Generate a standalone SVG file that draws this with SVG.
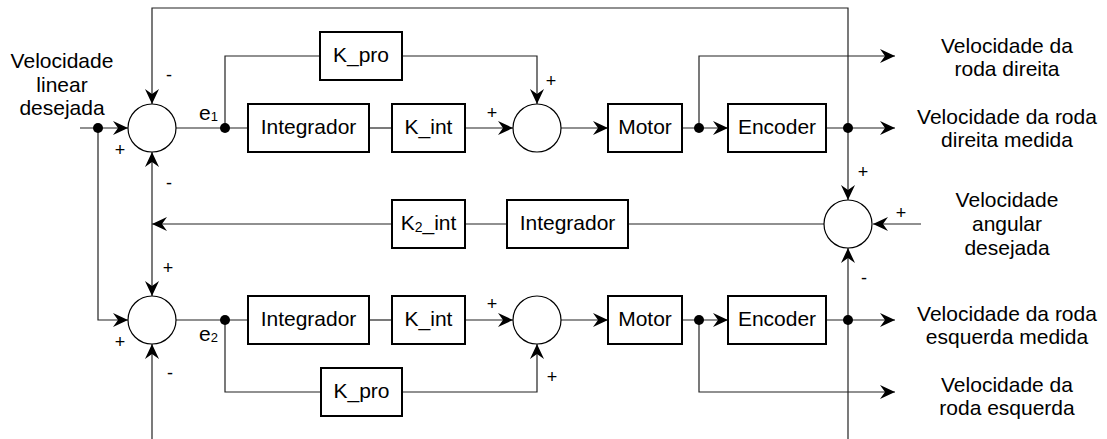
<svg xmlns="http://www.w3.org/2000/svg" width="1107" height="439" viewBox="0 0 1107 439">
<style>
text{font-family:"Liberation Sans",Arial,sans-serif;fill:#000;font-size:21px}
.c{text-anchor:middle}
.s{font-size:18px;text-anchor:middle}
.box{fill:#fff;stroke:#000;stroke-width:2}
.sum{fill:#fff;stroke:#000;stroke-width:1.2}
.ln{fill:none;stroke:#222;stroke-width:1.2}
.ar{marker-end:url(#ah)}
.dot{fill:#000}
</style>
<defs>
<marker id="ah" viewBox="-16 -8 17 16" refX="0" refY="0" markerWidth="17" markerHeight="16" markerUnits="userSpaceOnUse" orient="auto"><path d="M0,0 L-15,-7 L-10,0 L-15,7 Z" fill="#000"/></marker>
</defs>
<rect width="1107" height="439" fill="#fff"/>
<g id="connectors">
<path class="ln ar" d="M80,128 H128"/>
<path class="ln ar" d="M98,128 V320 H128"/>
<path class="ln ar" d="M848,128 V8 H152 V104"/>
<path class="ln ar" d="M848,128 V200"/>
<path class="ln" d="M176,128 H248"/>
<path class="ln" d="M225,128 V56 H320"/>
<path class="ln ar" d="M402,56 H537 V104"/>
<path class="ln" d="M369,128 H392"/>
<path class="ln ar" d="M465,128 H513"/>
<path class="ln ar" d="M561,128 H608"/>
<path class="ln ar" d="M682,128 H728"/>
<path class="ln ar" d="M699,128 V56 H895"/>
<path class="ln ar" d="M826,128 H895"/>
<path class="ln" d="M825,224 H628"/>
<path class="ln" d="M507,224 H465"/>
<path class="ln ar" d="M392,224 H152"/>
<path class="ln ar" d="M152,224 V152"/>
<path class="ln ar" d="M152,224 V296"/>
<path class="ln ar" d="M921,224 H873"/>
<path class="ln ar" d="M152,439 V344"/>
<path class="ln ar" d="M848,439 V248"/>
<path class="ln" d="M176,320 H248"/>
<path class="ln" d="M225,320 V392 H321"/>
<path class="ln ar" d="M402,392 H537 V344"/>
<path class="ln" d="M369,320 H392"/>
<path class="ln ar" d="M465,320 H513"/>
<path class="ln ar" d="M561,320 H608"/>
<path class="ln ar" d="M682,320 H728"/>
<path class="ln ar" d="M699,320 V392 H895"/>
<path class="ln ar" d="M826,320 H895"/>
<circle class="dot" cx="98" cy="128" r="5"/>
<circle class="dot" cx="225" cy="128" r="5"/>
<circle class="dot" cx="699" cy="128" r="5"/>
<circle class="dot" cx="848" cy="128" r="5"/>
<circle class="dot" cx="225" cy="320" r="5"/>
<circle class="dot" cx="699" cy="320" r="5"/>
<circle class="dot" cx="848" cy="320" r="5"/>
</g>
<g id="sum1"><circle class="sum" cx="152" cy="128" r="24"/>
<text class="s" x="169" y="81">-</text><text class="s" x="120" y="156">+</text><text class="s" x="169" y="189">-</text></g>
<g id="sum2"><circle class="sum" cx="152" cy="320" r="24"/>
<text class="s" x="168" y="274">+</text><text class="s" x="120" y="348">+</text><text class="s" x="170" y="379">-</text></g>
<g id="sum3"><circle class="sum" cx="537" cy="128" r="24"/>
<text class="s" x="551" y="87">+</text><text class="s" x="492" y="119">+</text></g>
<g id="sum4"><circle class="sum" cx="537" cy="320" r="24"/>
<text class="s" x="492" y="310">+</text><text class="s" x="552" y="383">+</text></g>
<g id="sum5"><circle class="sum" cx="848" cy="224" r="24"/>
<text class="s" x="863" y="178">+</text><text class="s" x="901" y="219">+</text><text class="s" x="864" y="284">-</text></g>
<g id="kpro1"><rect class="box" x="320" y="32" width="82" height="48"/><text class="c" x="361" y="62">K_pro</text></g>
<g id="integ1"><rect class="box" x="248" y="104" width="121" height="48"/><text class="c" x="308.5" y="134">Integrador</text></g>
<g id="kint1"><rect class="box" x="392" y="104" width="73" height="48"/><text class="c" x="428.5" y="134">K_int</text></g>
<g id="motor1"><rect class="box" x="608" y="104" width="74" height="48"/><text class="c" x="645" y="134">Motor</text></g>
<g id="enc1"><rect class="box" x="728" y="104" width="98" height="48"/><text class="c" x="777" y="134">Encoder</text></g>
<g id="k2int"><rect class="box" x="392" y="200" width="73" height="48"/><text class="c" x="428.5" y="230">K<tspan font-size="14" dy="2">2</tspan><tspan dy="-2">_int</tspan></text></g>
<g id="integ3"><rect class="box" x="507" y="200" width="121" height="48"/><text class="c" x="567.5" y="230">Integrador</text></g>
<g id="integ2"><rect class="box" x="248" y="296" width="121" height="48"/><text class="c" x="308.5" y="326">Integrador</text></g>
<g id="kint2"><rect class="box" x="392" y="296" width="73" height="48"/><text class="c" x="428.5" y="326">K_int</text></g>
<g id="motor2"><rect class="box" x="608" y="296" width="74" height="48"/><text class="c" x="645" y="326">Motor</text></g>
<g id="enc2"><rect class="box" x="728" y="296" width="98" height="48"/><text class="c" x="777" y="326">Encoder</text></g>
<g id="kpro2"><rect class="box" x="321" y="368" width="81" height="48"/><text class="c" x="361.5" y="398">K_pro</text></g>
<g id="labels">
<text x="199" y="120">e<tspan font-size="13" dy="1">1</tspan></text>
<text x="199" y="341">e<tspan font-size="13" dy="1">2</tspan></text>
<text class="c"><tspan x="62" y="68">Velocidade</tspan><tspan x="62" y="92">linear</tspan><tspan x="62" y="115">desejada</tspan></text>
<text class="c"><tspan x="1007" y="53">Velocidade da</tspan><tspan x="1007" y="76">roda direita</tspan></text>
<text class="c"><tspan x="1007" y="124">Velocidade da roda</tspan><tspan x="1007" y="147">direita medida</tspan></text>
<text class="c"><tspan x="1007" y="207">Velocidade</tspan><tspan x="1007" y="231">angular</tspan><tspan x="1007" y="255">desejada</tspan></text>
<text class="c"><tspan x="1007" y="321">Velocidade da roda</tspan><tspan x="1007" y="344">esquerda medida</tspan></text>
<text class="c"><tspan x="1007" y="392">Velocidade da</tspan><tspan x="1007" y="415">roda esquerda</tspan></text>
</g>
</svg>
